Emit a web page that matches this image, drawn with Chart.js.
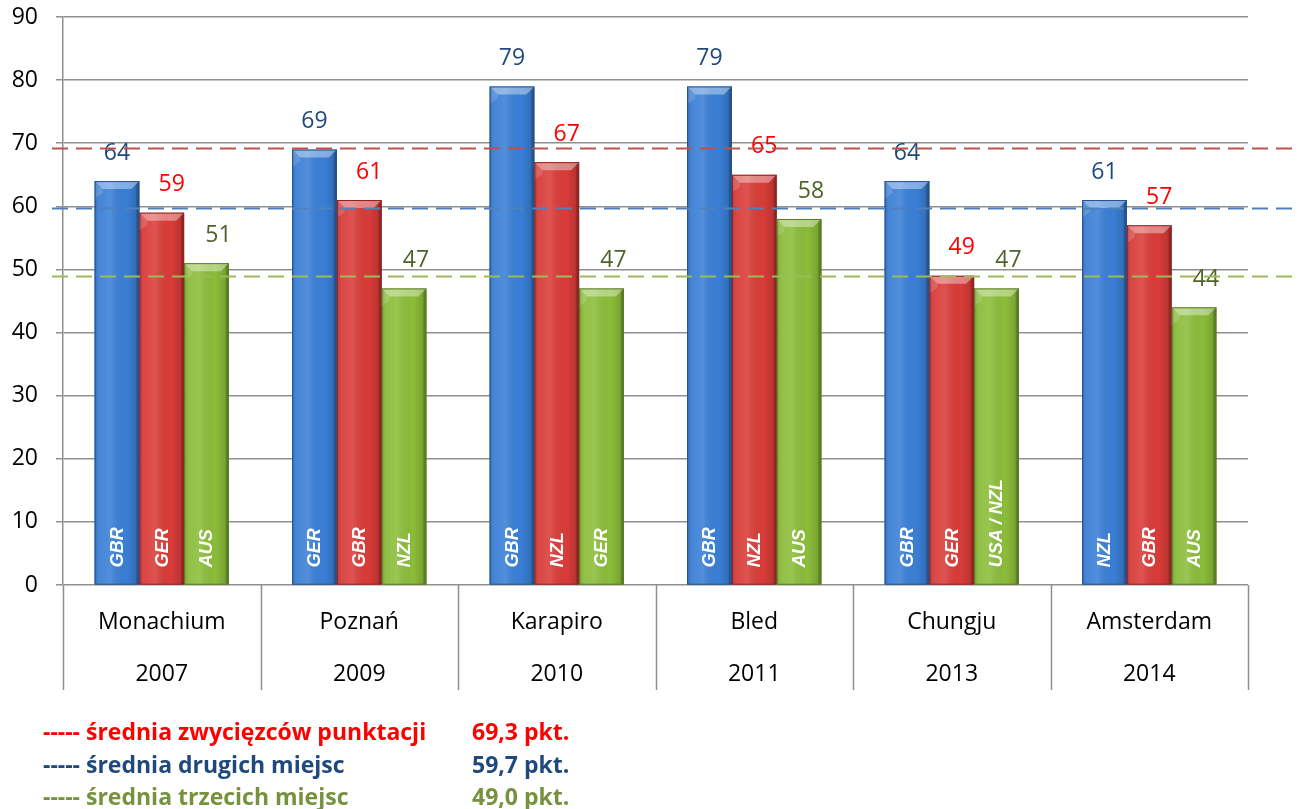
<!DOCTYPE html>
<html><head><meta charset="utf-8">
<script src="https://cdn.jsdelivr.net/npm/chart.js@4/dist/chart.umd.min.js"></script>
<style>html,body{margin:0;padding:0;background:#fff}#wrap{width:1304px;height:809px;position:relative}</style>
</head><body><div id="wrap"><canvas id="c"></canvas></div>
<script>
const venues = ['Monachium', 'Poznań', 'Karapiro', 'Bled', 'Chungju', 'Amsterdam'];
const years = ['2007', '2009', '2010', '2011', '2013', '2014'];
const firstPts = [64, 69, 79, 79, 64, 61];
const secondPts = [59, 61, 67, 65, 49, 57];
const thirdPts = [51, 47, 47, 58, 47, 44];
const firstNat = ['GBR', 'GER', 'GBR', 'GBR', 'GBR', 'NZL'];
const secondNat = ['GER', 'GBR', 'NZL', 'NZL', 'GER', 'GBR'];
const thirdNat = ['AUS', 'NZL', 'GER', 'AUS', 'USA / NZL', 'AUS'];
const avgValues = [69.3, 59.7, 49.0];
const avgNames = ['średnia zwycięzców punktacji', 'średnia drugich miejsc', 'średnia trzecich miejsc'];
const avgTexts = ['69,3 pkt.', '59,7 pkt.', '49,0 pkt.'];
const yTicks = [0, 10, 20, 30, 40, 50, 60, 70, 80, 90];

// styles
const barFill = ['#3a7fd6', '#d93c39', '#8bbd3a'];
const barEdge = ['#24518f', '#8e2422', '#5a7d22'];
const valueColor = ['#1f497d', '#ff0000', '#4f6228'];
const valueDx = [0, 10, 12];
const avgLineColor = ['#c0504d', '#4f81bd', '#9bbb59'];
const legendColor = ['#ff0000', '#1f497d', '#76923c'];
const nats = [firstNat, secondNat, thirdNat];

const overlay = {
  id: 'overlay',
  afterDatasetsDraw(chart) {
    const ctx = chart.ctx;
    const area = chart.chartArea;
    const ys = chart.scales.y;
    chart.data.datasets.forEach((ds, i) => {
      const meta = chart.getDatasetMeta(i);
      meta.data.forEach((bar, j) => {
        const p = bar.getProps(['x', 'y', 'base', 'width'], true);
        const l = p.x - p.width / 2, r = p.x + p.width / 2, t = p.y, b = p.base;
        ctx.save();
        const g = ctx.createLinearGradient(l, 0, r, 0);
        g.addColorStop(0, 'rgba(0,0,0,0.18)');
        g.addColorStop(0.12, 'rgba(255,255,255,0.06)');
        g.addColorStop(0.35, 'rgba(255,255,255,0.12)');
        g.addColorStop(0.7, 'rgba(0,0,0,0.0)');
        g.addColorStop(0.9, 'rgba(0,0,0,0.12)');
        g.addColorStop(1, 'rgba(0,0,0,0.28)');
        ctx.fillStyle = g;
        ctx.fillRect(l, t, r - l, b - t);
        const bv = 8;
        ctx.beginPath();
        ctx.moveTo(l, t); ctx.lineTo(r, t); ctx.lineTo(r - bv, t + bv); ctx.lineTo(l + bv, t + bv); ctx.closePath();
        ctx.fillStyle = 'rgba(255,255,255,0.38)';
        ctx.fill();
        ctx.beginPath();
        ctx.moveTo(l, t); ctx.lineTo(l + bv, t + bv); ctx.lineTo(l + bv, t + bv + 4); ctx.lineTo(l, t + bv + 10); ctx.closePath();
        ctx.fillStyle = 'rgba(255,255,255,0.15)';
        ctx.fill();
        ctx.beginPath();
        ctx.moveTo(r, t); ctx.lineTo(r, b); ctx.lineTo(r - 3, b); ctx.lineTo(r - 3, t + 3); ctx.closePath();
        ctx.fillStyle = 'rgba(0,0,0,0.15)';
        ctx.fill();
        ctx.strokeStyle = barEdge[i];
        ctx.lineWidth = 1;
        ctx.strokeRect(l + 0.5, t + 0.5, r - l - 1, b - t - 0.5);
        ctx.translate(p.x, b - 17);
        ctx.rotate(-Math.PI / 2);
        ctx.font = 'italic bold 18px "Liberation Sans", Arial, sans-serif';
        ctx.fillStyle = '#ffffff';
        ctx.textAlign = 'left';
        ctx.textBaseline = 'middle';
        ctx.fillText(nats[i][j], 0, 1);
        ctx.restore();
        ctx.save();
        ctx.font = '23px "Open Sans", sans-serif';
        ctx.fillStyle = valueColor[i];
        ctx.textAlign = 'center';
        ctx.textBaseline = 'middle';
        ctx.fillText(String(ds.data[j]), p.x + valueDx[i], t - 28);
        ctx.restore();
      });
    });
    ctx.save();
    ctx.lineWidth = 2;
    ctx.setLineDash([16, 8]);
    avgValues.forEach((v, k) => {
      const y = Math.round(ys.getPixelForValue(v)) + 0.5;
      ctx.strokeStyle = avgLineColor[k];
      ctx.beginPath();
      ctx.moveTo(area.left - 11, y);
      ctx.lineTo(area.right + 49, y);
      ctx.stroke();
    });
    ctx.restore();
  },
  afterDraw(chart) {
    const ctx = chart.ctx;
    const area = chart.chartArea;
    const xs = chart.scales.x;
    const n = venues.length;
    const half = (xs.getPixelForValue(1) - xs.getPixelForValue(0)) / 2;
    ctx.save();
    ctx.strokeStyle = '#8f8f8f';
    ctx.lineWidth = 1.5;
    for (let i = 0; i <= n; i++) {
      const x = Math.round(i < n ? xs.getPixelForValue(i) - half : xs.getPixelForValue(n - 1) + half) + 0.5;
      ctx.beginPath();
      ctx.moveTo(x, area.bottom);
      ctx.lineTo(x, area.bottom + 105);
      ctx.stroke();
    }
    ctx.font = 'bold 23px "Open Sans", sans-serif';
    ctx.textBaseline = 'middle';
    ctx.textAlign = 'left';
    const rows = [733, 766, 798];
    avgNames.forEach((name, k) => {
      ctx.fillStyle = legendColor[k];
      ctx.fillText('----- ' + name, 43, rows[k]);
      ctx.fillText(avgTexts[k], 472, rows[k]);
    });
    ctx.restore();
  }
};

new Chart(document.getElementById('c'), {
  type: 'bar',
  data: {
    labels: venues.map((v, i) => [v, years[i]]),
    datasets: [
      { label: 'I miejsce', data: firstPts, backgroundColor: barFill[0] },
      { label: 'II miejsce', data: secondPts, backgroundColor: barFill[1] },
      { label: 'III miejsce', data: thirdPts, backgroundColor: barFill[2] }
    ]
  },
  options: {
    responsive: true,
    maintainAspectRatio: false,
    animation: false,
    layout: { padding: { left: 0, right: 56, top: 17, bottom: 0 } },
    datasets: { bar: { categoryPercentage: 0.68, barPercentage: 1.0 } },
    plugins: { legend: { display: false }, tooltip: { enabled: false } },
    scales: {
      x: {
        grid: { display: false, drawTicks: false },
        border: { display: false },
        ticks: { color: '#000', padding: 11, font: { family: '"Open Sans", sans-serif', size: 23, lineHeight: 2.26 } },
        afterFit: s => { s.height = 224; s.paddingLeft = 0; s.paddingRight = 0; }
      },
      y: {
        min: 0, max: 90,
        afterBuildTicks: s => { s.ticks = yTicks.map(v => ({ value: v })); },
        grid: { color: '#8f8f8f', lineWidth: 1.5, tickLength: 7 },
        border: { color: '#8f8f8f', width: 1.5 },
        ticks: { color: '#000', padding: 18, font: { family: '"Open Sans", sans-serif', size: 23 } },
        afterFit: s => { s.width = 63; s.paddingTop = 0; s.paddingBottom = 0; }
      }
    }
  },
  plugins: [overlay]
});
</script></body></html>
